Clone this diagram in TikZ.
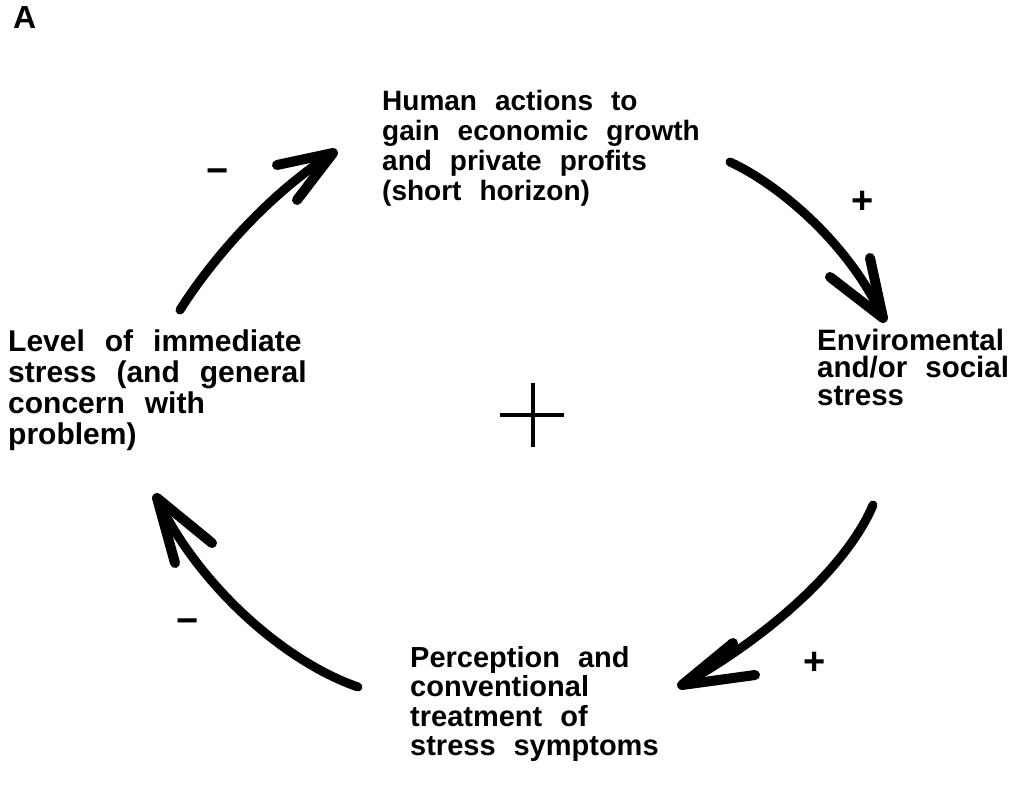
\documentclass[tikz,border=0pt]{standalone}
\usepackage{fontspec}
\newfontfamily\labelfont{Liberation Sans}
\newfontfamily\signfont{Liberation Sans}
% the typed labels have very wide gaps between words
\newcommand\wgap{\hspace{18pt}}
\newcommand\wwgap{\hspace{20pt}}
\begin{document}
\begin{tikzpicture}[x=1pt,y=-1pt,
  % #1 font size, #2 line spacing
  blocktext/.style 2 args={anchor=north west, inner sep=0pt, align=left,
    font=\labelfont\bfseries\fontsize{#1}{#2}\selectfont},
  shaft/.style={line width=9pt, line cap=round},
  barb/.style={line width=10pt, line cap=round, line join=round},
  sign/.style={inner sep=0pt, font=\signfont\bfseries\fontsize{38}{38}\selectfont},
  crossbar/.style={line width=4.5pt}]
\useasboundingbox (0,0) rectangle (1025,800);

% panel letter
\node[anchor=base west, inner sep=0pt, font=\labelfont\bfseries\fontsize{32}{32}\selectfont] (panel) at (13,29) {A};

% the four stages of the loop
\node[blocktext={28}{30}] (actions) at (382,88)
  {\rule{0pt}{22pt}Human\wgap actions\wgap to\\gain\wgap economic\wgap growth\\and\wgap private\wgap profits\\(short\wgap horizon)};
\node[blocktext={29.5}{27.5}] (stress) at (817,328)
  {\rule{0pt}{22pt}Enviromental\\and/or\wgap social\\stress};
\node[blocktext={29}{29.5}] (treat) at (410,645)
  {\rule{0pt}{22pt}Perception\wgap and\\conventional\\treatment\wgap of\\stress\wgap symptoms};
\node[blocktext={30}{31}] (level) at (8,329)
  {\rule{0pt}{22pt}Level\wwgap of\wwgap immediate\\stress\wwgap (and\wwgap general\\concern\wwgap with\\problem)};

% loop polarity in the middle
\coordinate (loop) at (533,415);
\draw[crossbar] (loop) ++(-33,0) -- ++(64,0);
\draw[crossbar] (loop) ++(0,-32) -- ++(0,64);

% arrow ends
\coordinate (a1s) at (180,310); \coordinate (a1t) at (333,153);
\coordinate (a1l) at (277,165); \coordinate (a1r) at (297,200);
\coordinate (a2s) at (730,162); \coordinate (a2t) at (883,318);
\coordinate (a2l) at (830,277); \coordinate (a2r) at (870,258);
\coordinate (a3s) at (873,505); \coordinate (a3t) at (682,685);
\coordinate (a3l) at (733,643); \coordinate (a3r) at (755,675);
\coordinate (a4s) at (358,687); \coordinate (a4t) at (157,498);
\coordinate (a4l) at (175,563); \coordinate (a4r) at (212,543);

% level -> actions
\draw[shaft] (a1s) .. controls (205,270) and (260,200) .. (a1t);
\draw[barb] (a1l) -- (a1t) -- (a1r);
% actions -> stress
\draw[shaft] (a2s) .. controls (780,185) and (850,245) .. (a2t);
\draw[barb] (a2l) -- (a2t) -- (a2r);
% stress -> treatment
\draw[shaft] (a3s) .. controls (850,560) and (780,630) .. (a3t);
\draw[barb] (a3l) -- (a3t) -- (a3r);
% treatment -> level
\draw[shaft] (a4s) .. controls (280,660) and (195,580) .. (a4t);
\draw[barb] (a4l) -- (a4t) -- (a4r);

% link signs
\node[sign] (s1) at (218,176) {−};
\node[sign] (s2) at (863,202) {+};
\node[sign] (s3) at (815,663) {+};
\node[sign] (s4) at (188,626) {−};
\end{tikzpicture}
\end{document}
